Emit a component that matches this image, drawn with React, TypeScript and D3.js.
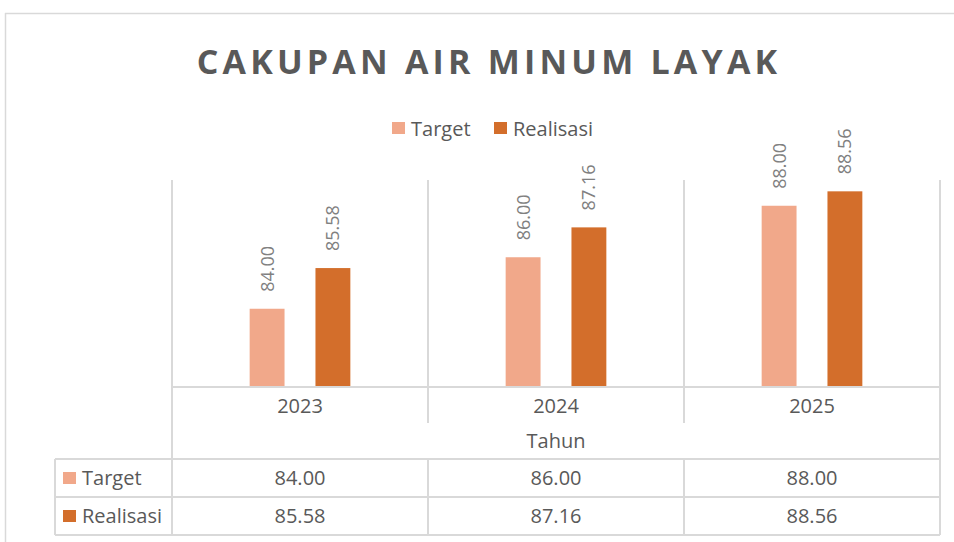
import React from "react";
import * as d3 from "d3";

const years = ["2023", "2024", "2025"];
const seriesNames = ["Target", "Realisasi"];
const targetValues = [84.0, 86.0, 88.0];
const realisasiValues = [85.58, 87.16, 88.56];
const seriesColors = ["#F1A88A", "#D36E2B"];
const axisTitle = "Tahun";
const chartTitle = "CAKUPAN AIR MINUM LAYAK";

const W = 954;
const H = 542;
const FONT = "'Open Sans', 'Noto Sans', sans-serif";
const TEXT = "#595959";
const GRID = "#D9D9D9";

export default function App() {
  const values = [targetValues, realisasiValues];
  const x = d3.scaleBand<string>().domain(years).range([172, 940]).padding(0);
  const xs = d3
    .scaleBand<string>()
    .domain(seriesNames)
    .range([0, x.bandwidth()])
    .paddingInner(0.47)
    .paddingOuter(1.18);
  const y = d3.scaleLinear().domain([81, 89]).range([386, 180]);

  const plotTop = 180;
  const base = 387;
  const catBottom = 423;
  const tableTop = 459;
  const rowH = 38;
  const tableLeft = 55;
  const x0 = x.range()[0];
  const x1 = x.range()[1];
  const bounds = years.map((yr) => x(yr) as number).concat([x1]);

  return (
    <svg
      width={W}
      height={H}
      style={{ position: "absolute", left: 0, top: 0, background: "#fff" }}
      fontFamily={FONT}
    >
      {/* outer chart border */}
      <line x1={5} y1={13.5} x2={W} y2={13.5} stroke={GRID} strokeWidth={1.5} />
      <line x1={5.5} y1={13} x2={5.5} y2={H} stroke={GRID} strokeWidth={1.5} />

      <text
        x={489}
        y={74}
        textAnchor="middle"
        fontSize={34}
        fontWeight={700}
        fill={TEXT}
        letterSpacing={4.2}
      >
        {chartTitle}
      </text>

      {/* legend */}
      {seriesNames.map((s, i) => {
        const lx = [392, 494][i];
        return (
          <g key={s}>
            <rect x={lx} y={122} width={13} height={12} fill={seriesColors[i]} />
            <text x={lx + 19} y={136} fontSize={20} fill={TEXT}>
              {s}
            </text>
          </g>
        );
      })}

      {/* vertical grid lines in plot */}
      {bounds.map((bx, i) => (
        <line
          key={"g" + i}
          x1={bx}
          x2={bx}
          y1={plotTop}
          y2={catBottom}
          stroke={GRID}
          strokeWidth={2}
        />
      ))}
      {/* outer verticals through tahun row */}
      <line x1={x0} x2={x0} y1={catBottom} y2={tableTop} stroke={GRID} strokeWidth={2} />
      <line x1={x1} x2={x1} y1={catBottom} y2={tableTop} stroke={GRID} strokeWidth={2} />

      {/* bars */}
      {years.map((yr, ci) =>
        seriesNames.map((s, si) => {
          const v = values[si][ci];
          const bx = (x(yr) as number) + (xs(s) as number);
          const bw = xs.bandwidth();
          const top = y(v);
          const cx = bx + bw / 2;
          const ly = top - 17;
          return (
            <g key={yr + s}>
              <rect x={bx} y={top} width={bw} height={y(81) - top} fill={seriesColors[si]} />
              <text
                transform={`translate(${cx + 6.5},${ly}) rotate(-90)`}
                fontSize={18}
                fill="#808080"
              >
                {v.toFixed(2)}
              </text>
            </g>
          );
        })
      )}

      {/* baseline */}
      <line x1={x0} x2={x1} y1={base} y2={base} stroke={GRID} strokeWidth={2} />

      {/* category labels */}
      {years.map((yr) => (
        <text
          key={"c" + yr}
          x={(x(yr) as number) + x.bandwidth() / 2}
          y={413}
          textAnchor="middle"
          fontSize={20}
          fill={TEXT}
        >
          {yr}
        </text>
      ))}
      <text x={(x0 + x1) / 2} y={448} textAnchor="middle" fontSize={20} fill={TEXT}>
        {axisTitle}
      </text>

      {/* data table */}
      {[0, 1, 2].map((r) => (
        <line
          key={"h" + r}
          x1={tableLeft}
          x2={x1}
          y1={tableTop + r * rowH}
          y2={tableTop + r * rowH}
          stroke={GRID}
          strokeWidth={2}
        />
      ))}
      {[tableLeft, ...bounds].map((bx, i) => (
        <line
          key={"tv" + i}
          x1={bx}
          x2={bx}
          y1={tableTop}
          y2={tableTop + 2 * rowH}
          stroke={GRID}
          strokeWidth={2}
        />
      ))}
      {seriesNames.map((s, si) => {
        const ry = tableTop + si * rowH;
        return (
          <g key={"row" + s}>
            <rect x={63} y={ry + 13} width={13} height={12} fill={seriesColors[si]} />
            <text x={82} y={ry + 26} fontSize={20} fill={TEXT}>
              {s}
            </text>
            {years.map((yr, ci) => (
              <text
                key={yr}
                x={(x(yr) as number) + x.bandwidth() / 2}
                y={ry + 26}
                textAnchor="middle"
                fontSize={20}
                fill={TEXT}
              >
                {values[si][ci].toFixed(2)}
              </text>
            ))}
          </g>
        );
      })}
    </svg>
  );
}
